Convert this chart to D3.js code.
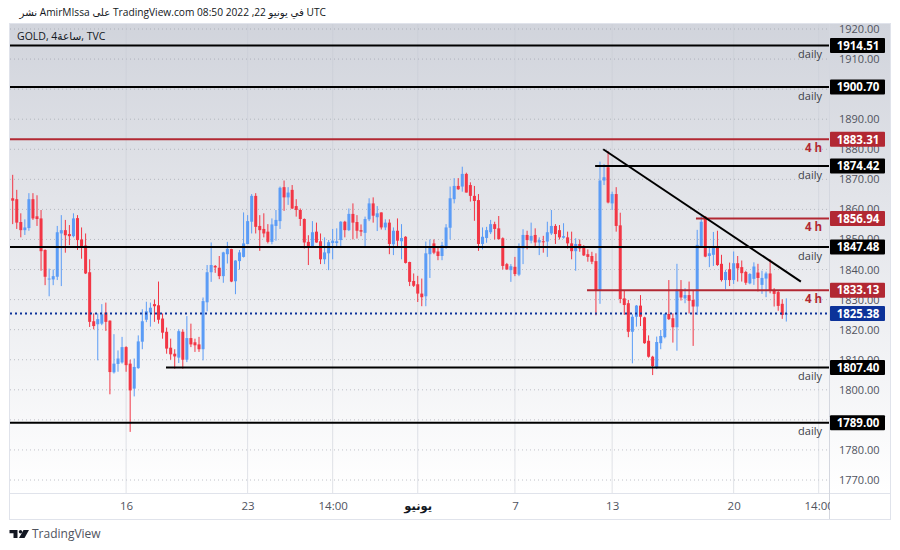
<!DOCTYPE html>
<html><head><meta charset="utf-8">
<script src="https://cdn.jsdelivr.net/npm/d3@7"></script>
<style>html,body{margin:0;padding:0;background:#fff}svg{display:block}text{font-family:"Open Sans","DejaVu Sans",sans-serif}</style>
</head><body><svg id="c" width="900" height="550"></svg>
<script>
const highs=[1871.5,1866.5,1858.7,1856.7,1865.4,1865.4,1864.7,1859.8,1846.7,1840.3,1840,1854.5,1858.1,1856.5,1854.8,1858.7,1858.1,1854,1852,1843.4,1825.4,1825.4,1828.5,1829,1823.1,1818.5,1813.1,1817.6,1814.5,1810,1810.4,1818.1,1826.8,1829.3,1829,1830,1836,1825.4,1820.7,1817,1813.5,1820.1,1820.1,1824.5,1822,1817,1817.6,1830.7,1841.5,1849,1841.5,1844.5,
1845.9,1849.2,1846.9,1843.1,1846.5,1859,1858.1,1865.1,1865.4,1858.1,1858.7,1855.1,1857,1859.8,1867.6,1869.6,1867.4,1868.1,1863.4,1860.3,1857,1851.4,1856.1,1855.6,1852,1850.7,1849.8,1853.5,1853.7,1856.1,1856.2,1860.3,1862,1858.1,1855,1857.6,1863.7,1864,1861.1,1859,1856.7,1856.7,1854,1857,1855.1,1851.1,1842.6,1838.7,1837.9,1837,
1849.3,1850,1850,1847.4,1849.2,1855.1,1867.6,1870.4,1870.4,1874.2,1872.2,1869,1867.8,1865.1,1854,1854.2,1856.5,1855.9,1857.8,1850.7,1842.2,1841.8,1844.2,1848.7,1853.4,1852.9,1855.6,1853.7,1850.7,1851.2,1855.9,1859.8,1855.1,1854.8,1855.4,1852.6,1852.6,1850.4,1850,1848.1,1846.7,1845.9,1845.4,1875.9,
1875.1,1879.4,1865.9,1867.4,1858.9,1833.2,1829.9,1825.1,1828.2,1831.5,1824.3,1818.1,1811.3,1817.7,1819.9,1825.4,1836.5,1825.4,1841.9,1836.5,1833.8,1836,1833.2,1853.2,1857.8,1857.8,1847.8,1852.5,1852.9,1844.9,1839.9,1842.3,1846,1844.5,1843,1839.6,1838.8,1842.4,1841.9,1839.6,1839.3,1843.4,1833.8,1833,1830.1,1830.4];
const lows=[1855.1,1853.5,1850.7,1851.5,1852.9,1856.5,1854.5,1839.6,1834.8,1831.1,1834.8,1836.5,1834.5,1845.6,1848.1,1850.7,1846.5,1843.6,1838.5,1820.9,1820.1,1809.8,1821.5,1819.6,1798.5,1805.4,1806,1808.7,1806,1786,1797.8,1807,1813.5,1822.5,1821,1822.6,1822,1817,1812,1810,1807,1808.9,1807,1809.2,1814.2,1812.6,1812.6,1809.8,1826.1,1835.9,1838.9,1836.8,
1835.6,1842,1835.8,1831.8,1840,1844,1848.4,1852,1852,1846.2,1850.7,1848.7,1848.4,1849.6,1853.5,1859.5,1861.5,1860.1,1857.6,1854.5,1847,1841.5,1847.4,1848.9,1841.8,1841.8,1839.8,1843.4,1847.6,1847.4,1850.7,1852.8,1850,1850.3,1851.1,1847.4,1856.1,1855.6,1852.8,1853.3,1853.1,1845.1,1844.8,1847.8,1843.4,1842,1834.5,1834.2,1829.2,1827.8,
1827.8,1837.2,1845.1,1843.1,1843.1,1846.9,1850,1862,1866.5,1865.9,1865.6,1862.6,1856.2,1846.2,1846.7,1848.9,1851.8,1850,1850,1840,1840,1835.9,1837.8,1837.8,1841.8,1846.7,1848.7,1847.4,1844.8,1845.6,1844.2,1851.5,1848.5,1850,1850.3,1847,1843.4,1839.6,1845.9,1844.5,1842.6,1841.8,1824.8,1828.6,
1868.1,1862,1859.8,1852.6,1828.8,1824.9,1817.5,1808.8,1821,1821.2,1815.3,1810.7,1804.9,1806.9,1813.5,1817.1,1823.2,1815.7,1813,1829.7,1828.8,1825.4,1814.6,1824.9,1847.6,1844.1,1840.8,1841.2,1841.2,1836,1833.5,1834.5,1835.2,1836,1836,1834.9,1835.1,1834.9,1832.7,1831.9,1830.8,1832.1,1827.7,1826.3,1823.6,1822.7];
const opens=[1863.7,1863.4,1855.8,1853.1,1853.8,1863.4,1857.7,1857,1846.5,1836.9,1836.7,1837.6,1852,1853.1,1851.8,1851.1,1857.1,1850,1848,1839.1,1822.8,1821.8,1822,1825.7,1823,1805.8,1808.6,1809.1,1814.2,1808.7,1800.4,1807.2,1816,1823.3,1825.7,1828.5,1828.1,1823.7,1819.3,1814,1812,1810.7,1819.3,1810,1817.2,1815.8,1815.1,1813.5,1829.1,1839.1,1841.2,1840.6,
1837.8,1845.1,1846.8,1836.1,1842.8,1844.2,1848.5,1855.9,1864.5,1854.5,1853.5,1852.6,1849.2,1854.5,1856.1,1867.4,1864,1866.5,1861.1,1859.8,1856.8,1849.2,1847.4,1852.6,1849.4,1843.4,1845.4,1848.8,1848.8,1849.8,1855.9,1853.1,1858.5,1855.8,1853.1,1852.2,1856.7,1862,1857.4,1859,1854,1855.6,1848.4,1852.9,1849.4,1850.9,1842.5,1836.2,1835.1,1832,
1831.1,1845.1,1848.7,1846,1844.5,1847.6,1853.9,1863.4,1867.8,1867.6,1871.8,1868.1,1864.5,1863.1,1848.5,1850.5,1852.4,1855.1,1853.7,1850.4,1841.8,1839.8,1840.9,1838.3,1847,1851.5,1849.6,1851.5,1849,1849.4,1849.3,1852,1854.5,1853.1,1850.6,1850.7,1848.7,1846.1,1848.5,1847.6,1845.1,1844.5,1842.8,1833.2,
1869.6,1874,1862,1865.1,1854.7,1830.4,1828.8,1819.3,1824.3,1828,1824.1,1816.3,1811,1807.2,1815.5,1817.5,1825.2,1823.8,1820.8,1833.4,1830.4,1831.5,1829.9,1827.7,1847.8,1857.6,1844.5,1844.9,1847.6,1841.9,1836.5,1840.1,1836.5,1842.1,1840.8,1839.2,1835.4,1836.9,1839,1834.9,1837,1838.7,1833.2,1832.5,1828.6,1825.2];
const closes=[1862.9,1855.6,1853.1,1854,1863.4,1857,1856.8,1846.1,1837.6,1837,1837.8,1852.4,1853.1,1851.4,1851.1,1857,1849.8,1847.3,1838.7,1822.6,1821.2,1823.5,1825.1,1822.6,1805.9,1808.7,1810.4,1814.2,1808.2,1799.8,1807.6,1816.1,1822.8,1826.1,1827.3,1827.8,1823.3,1819,1813.7,1811.8,1811.1,1819.5,1810,1817.2,1815.1,1814.8,1813.5,1829.5,1839.1,1841.5,1840.7,1837.8,
1845.7,1846.9,1836,1843,1845.7,1848.7,1856.1,1864.5,1854.2,1853.1,1852,1849.2,1855,1856.5,1867.2,1864,1865.6,1860.3,1859.8,1856.8,1849,1847.2,1852.4,1849,1843.4,1845.7,1849.1,1849.6,1849.4,1855.9,1853.1,1858.5,1855.6,1852.9,1852.6,1856.8,1862,1857.9,1858.7,1854,1855.6,1848.5,1852.9,1849.6,1850.5,1842.2,1835.9,1834.6,1832,1830.8,
1845.4,1847.6,1845.6,1844.5,1848.1,1854,1863.7,1867.8,1866.7,1871.8,1865.6,1864.5,1862.8,1848.5,1850.9,1853.1,1855.1,1853.5,1850.1,1841.2,1840,1841.1,1838.5,1847.6,1851.5,1849.8,1851.2,1849,1849.8,1849.3,1852.4,1854.5,1851.8,1850.7,1851.1,1848.7,1846.1,1848.5,1847,1844.7,1844.2,1842.6,1833.1,1869.6,
1870.7,1862.3,1865.1,1854.5,1830.2,1828.2,1819.3,1824.3,1828,1824.3,1815.5,1811,1807.9,1815.9,1817.9,1825.2,1823.5,1820.8,1833.4,1830.7,1831.5,1829.6,1827.7,1848.2,1855.9,1844.3,1845.4,1847.6,1841.5,1836.5,1839.2,1836.5,1842.1,1840.4,1838.8,1835.6,1838.5,1841,1837.2,1837.2,1838.7,1833.2,1831.9,1827.9,1824.9,1825.38];

const gridPrices=[1770,1780,1790,1800,1810,1820,1830,1840,1850,1860,1870,1880,1890,1900,1910,1920];
const priceTicks=[1770,1780,1800,1810,1820,1830,1840,1850,1860,1870,1880,1890,1910,1920];
const timeTicks=[28,58,79,100,124,148,178,199];
const timeLabels=["16","23","14:00","يونيو","7","13","20","14:00"];
const levelPrices=[1914.51,1900.70,1883.31,1874.42,1856.94,1847.48,1833.13,1807.40,1789.00];
const levelStarts=[null,null,null,143.8,168.7,null,141.8,37.85,null];
const levelKinds=["daily","daily","4 h","daily","4 h","daily","4 h","daily","daily"];
const lastPrice=1825.38;
const trendIndex=[145.8,194.6];
const trendPrice=[1880,1836];

const RED="#f23645",BLUE="#5b9cf6",LRED="#b22833",NAVY="#0c3299";
const L=10,R=829,T=24,B=493,AX=890,BOT=519;
const x=d3.scaleLinear().domain([0,191]).range([12.7,786.3]);
const y=d3.scaleLinear().domain([1920,1770]).range([29,480]);
const svg=d3.select("#c");
const defs=svg.append("defs");
const gr=defs.append("linearGradient").attr("id","bg").attr("x1",0).attr("x2",0).attr("y1",0).attr("y2",1);
gr.append("stop").attr("offset",0).attr("stop-color","#d1d4dc");
gr.append("stop").attr("offset",1).attr("stop-color","#ffffff");
defs.append("clipPath").attr("id","pane").append("rect").attr("x",L).attr("y",T).attr("width",R-L).attr("height",B-T);

svg.append("rect").attr("x",L).attr("y",T).attr("width",AX-L).attr("height",B-T).attr("fill","url(#bg)");

// grid
const grid=svg.append("g").attr("clip-path","url(#pane)");
grid.selectAll(".h").data(gridPrices).join("line").attr("x1",L).attr("x2",R).attr("y1",d=>y(d)).attr("y2",d=>y(d))
  .attr("stroke","#8f939e").attr("stroke-opacity",.55).attr("stroke-dasharray","1 3");
grid.selectAll(".v").data(timeTicks).join("line").attr("y1",T).attr("y2",B).attr("x1",d=>x(d)).attr("x2",d=>x(d))
  .attr("stroke","#c9ccd6").attr("stroke-opacity",.55);

// frame
const frame=svg.append("g").attr("fill","none").attr("stroke","#e0e3eb");
frame.append("rect").attr("x",L-.5).attr("y",T-.5).attr("width",AX-L+1).attr("height",BOT-T+1);
frame.append("line").attr("x1",L).attr("x2",AX).attr("y1",B+.5).attr("y2",B+.5);
frame.append("line").attr("x1",R+.5).attr("x2",R+.5).attr("y1",T).attr("y2",BOT).attr("stroke","#d4d7df");

// price axis
const pa=svg.append("g").attr("transform",`translate(${R},0)`)
  .call(d3.axisRight(y).tickValues(priceTicks).tickSize(0).tickPadding(10).tickFormat(d3.format(".2f")));
pa.select(".domain").remove();
pa.selectAll("text").attr("font-size",11).attr("fill","#50535e").style('font-family','"Open Sans"');

// time axis
const ta=svg.append("g").attr("transform",`translate(0,${B})`)
  .call(d3.axisBottom(x).tickValues(timeTicks).tickSize(0).tickPadding(9).tickFormat((d,i)=>timeLabels[i]));
ta.select(".domain").remove();
ta.selectAll("text").attr("font-size",11.5).attr("font-weight",(d,i)=>i===3?700:400).attr("fill",(d,i)=>i===3?"#131722":"#50535e");
svg.append("rect").attr("x",R+1).attr("y",B+1).attr("width",AX-R-1).attr("height",BOT-B-1).attr("fill","#fff");

// candles
const pane=svg.append("g").attr("clip-path","url(#pane)");
const idx=d3.range(highs.length);
const col=i=>closes[i]>=opens[i]?BLUE:RED;
pane.selectAll(".w").data(idx).join("line").attr("x1",x).attr("x2",x)
  .attr("y1",i=>y(highs[i])).attr("y2",i=>y(lows[i])).attr("stroke",col).attr("stroke-width",1);
pane.selectAll(".b").data(idx).join("rect").attr("x",i=>x(i)-1.5).attr("width",3)
  .attr("y",i=>y(Math.max(opens[i],closes[i])))
  .attr("height",i=>Math.max(1,Math.abs(y(opens[i])-y(closes[i])))).attr("fill",col);

// last price
pane.append("line").attr("x1",L).attr("x2",R).attr("y1",y(lastPrice)).attr("y2",y(lastPrice))
  .attr("stroke",NAVY).attr("stroke-width",2).attr("stroke-dasharray","2 3");

// levels
levelPrices.forEach((p,i)=>{
  const c=levelKinds[i]==="daily"?"#000":LRED;
  const x0=levelStarts[i]===null?L:x(levelStarts[i]);
  pane.append("line").attr("x1",x0).attr("x2",R).attr("y1",y(p)).attr("y2",y(p)).attr("stroke",c).attr("stroke-width",2);
  pane.append("text").attr("x",R-7).attr("y",y(p)+12.5).attr("text-anchor","end").attr("font-size",levelKinds[i]==="daily"?11:11.5)
    .attr("font-weight",levelKinds[i]==="daily"?400:700).attr("fill",levelKinds[i]==="daily"?"#3d3f47":LRED).text(levelKinds[i]);
});

// trend line
pane.append("line").attr("x1",x(trendIndex[0])).attr("x2",x(trendIndex[1])).attr("y1",y(trendPrice[0])).attr("y2",y(trendPrice[1]))
  .attr("stroke","#000").attr("stroke-width",2);

// price labels
const tags=levelPrices.map((p,i)=>({p,c:levelKinds[i]==="daily"?"#000":LRED})).concat([{p:lastPrice,c:NAVY}]);
const tg=svg.append("g").selectAll("g").data(tags).join("g").attr("transform",d=>`translate(830,${y(d.p)})`);
tg.append("rect").attr("x",0).attr("y",-7.5).attr("width",55).attr("height",15).attr("rx",1).attr("fill",d=>d.c);
tg.append("text").attr("x",28).attr("y",4.2).attr("text-anchor","middle").attr("font-size",11.5).attr("font-weight",700).attr("fill","#fff").text(d=>d.p.toFixed(2));

// header
svg.append("text").attr("x",326).attr("y",16).attr("direction","rtl").attr("text-anchor","start").attr("font-size",10.2).attr("fill","#131722")
  .text("UTC في يونيو 22, 2022 08:50 TradingView.com على AmirMIssa نشر");
svg.append("text").attr("x",17).attr("y",40).attr("font-size",10.5).attr("fill","#131722").text("GOLD, 4ساعة, TVC");

// footer logo
const logo=svg.append("g").attr("fill","#131722").attr("transform","translate(9.5,530)");
logo.append("path").attr("d","M0 0H8V8H4V3.2H0Z");
logo.append("circle").attr("cx",11).attr("cy",1.7).attr("r",1.7);
logo.append("path").attr("d","M14 0H19.5L15 8H9.5Z");
svg.append("text").attr("x",32).attr("y",538).attr("font-size",12).attr("fill","#50535e").text("TradingView");
</script></body></html>
